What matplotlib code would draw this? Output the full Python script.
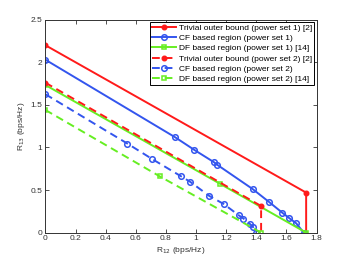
import matplotlib
matplotlib.use("Agg")
import matplotlib.pyplot as plt

plt.rcParams['font.family'] = ['Liberation Sans', 'DejaVu Sans']

# Trivial outer bound (power set 1)
tob1_x = [0, 1.731, 1.731]
tob1_y = [2.20, 0.47, 0.0]
# CF based region (power set 1)
cf1_x = [0, 0.861, 0.989, 1.12, 1.142, 1.375, 1.487, 1.572, 1.62, 1.665, 1.715]
cf1_y = [2.03, 1.12, 0.971, 0.826, 0.795, 0.513, 0.357, 0.235, 0.169, 0.11, 0.0]
# DF based region (power set 1)
df1_x = [0, 1.16, 1.731]
df1_y = [1.733, 0.573, 0.0]
# Trivial outer bound (power set 2)
tob2_x = [0, 1.432, 1.432]
tob2_y = [1.76, 0.313, 0.0]
# CF based region (power set 2)
cf2_x = [0, 0.545, 0.708, 0.902, 0.961, 1.088, 1.185, 1.282, 1.315, 1.359, 1.378, 1.40]
cf2_y = [1.625, 1.045, 0.865, 0.66, 0.597, 0.431, 0.335, 0.206, 0.166, 0.10, 0.068, 0.0]
# DF based region (power set 2)
df2_x = [0, 0.76, 1.432]
df2_y = [1.44, 0.66, 0.0]

labels = ["Trivial outer bound (power set 1) [2]",
          "CF based region (power set 1)",
          "DF based region (power set 1) [14]",
          "Trivial outer bound (power set 2) [2]",
          "CF based region (power set 2)",
          "DF based region (power set 2) [14]"]

red = '#ff1a1a'
blue = '#3355ee'
green = '#66ee22'

fig = plt.figure(figsize=(3.49, 2.62), dpi=100)
ax = fig.add_axes([0.13, 0.112, 0.777, 0.813])

lw = 1.4
dash = (0, (4, 2.5))
ax.plot(tob1_x, tob1_y, '-', color=red, lw=lw, marker='o', ms=3.3,
        mfc=red, mec=red, markevery=[0, 1], label=labels[0])
ax.plot(cf1_x, cf1_y, '-', color=blue, lw=lw, marker='o', ms=4.0,
        mfc='none', mec=blue, mew=1.1, label=labels[1])
ax.plot(df1_x, df1_y, '-', color=green, lw=lw, marker='s', ms=3.4,
        mfc='none', mec=green, mew=1.1, label=labels[2])
ax.plot(tob2_x, tob2_y, color=red, lw=lw, ls=dash, marker='o', ms=3.3,
        mfc=red, mec=red, markevery=[0, 1], label=labels[3])
ax.plot(cf2_x, cf2_y, color=blue, lw=lw, ls=dash, marker='o', ms=4.0,
        mfc='none', mec=blue, mew=1.1, label=labels[4])
ax.plot(df2_x, df2_y, color=green, lw=lw, ls=dash, marker='s', ms=3.4,
        mfc='none', mec=green, mew=1.1, label=labels[5])

ax.set_xlim(0, 1.8)
ax.set_ylim(0, 2.5)
ax.set_xticks([0, 0.2, 0.4, 0.6, 0.8, 1, 1.2, 1.4, 1.6, 1.8])
ax.set_xticklabels(['0', '0.2', '0.4', '0.6', '0.8', '1', '1.2', '1.4', '1.6', '1.8'])
ax.set_yticks([0, 0.5, 1, 1.5, 2, 2.5])
ax.set_yticklabels(['0', '0.5', '1', '1.5', '2', '2.5'])
ax.tick_params(direction='in', top=True, right=True, labelsize=6, length=3,
               width=0.6, pad=2, colors='#333333')
for s in ax.spines.values():
    s.set_linewidth(0.7)
    s.set_color('#333333')
ax.set_xlabel('R$_{12}$ (bps/Hz)', fontsize=6, labelpad=2, color='#333333')
ax.set_ylabel('R$_{13}$ (bps/Hz)', fontsize=6, labelpad=3, color='#333333')

leg = ax.legend(loc='upper right', fontsize=6, handlelength=2.9, handletextpad=0.3,
                borderpad=0.3, labelspacing=0.28, borderaxespad=0.25,
                fancybox=False, framealpha=1, edgecolor='black')
leg.get_frame().set_linewidth(0.7)

fig.savefig('out.png', dpi=100)
